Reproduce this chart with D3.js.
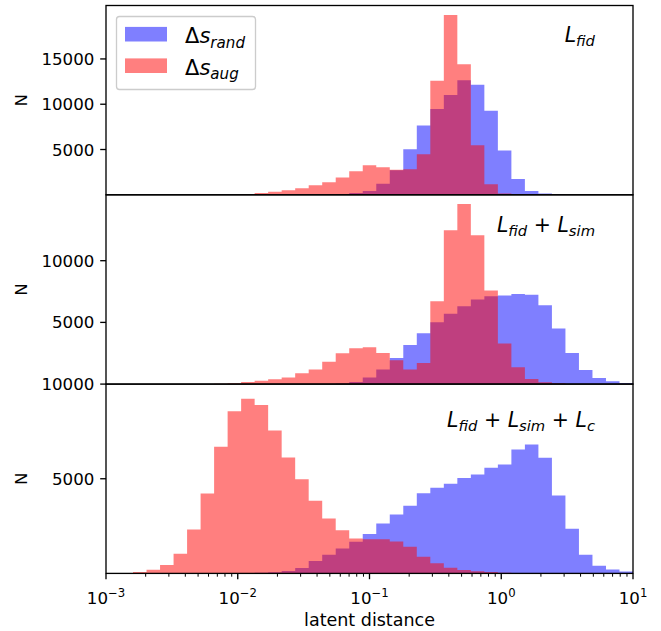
<!DOCTYPE html>
<html><head><meta charset="utf-8">
<script src="https://cdn.jsdelivr.net/npm/d3@7"></script>
<style>body{margin:0;background:#fff}svg{display:block}</style>
</head><body><svg id="c" width="661" height="631"></svg>
<script>
// ---- data ----
const logMin = -3, logMax = 1, binCount = 39;   // 40 log-spaced edges from 1e-3 to 1e1
const xTickExps = [-3, -2, -1, 0, 1];
const xLabel = "latent distance";
const yLabel = "N";

const fidRand = [0,0,0,0,0,0,0,0,0,0,0,0,0,0,0,0,0,50,200,420,1230,2720,5030,7650,9460,11010,12660,12150,9270,4885,1750,420,130,50,0,0,0,0,0];
const fidAug  = [0,0,0,0,0,0,0,0,10,30,60,200,350,500,720,1050,1380,1900,2600,3260,3040,2760,2820,4480,12590,19855,14400,5475,1160,130,50,0,0,0,0,0,0,0,0];

const simRand = [0,0,0,0,0,0,0,0,0,0,0,0,0,0,0,0,0,50,175,530,1175,2120,3175,4120,5010,5710,6305,6850,7120,7170,7300,7250,6390,4500,2525,1150,500,230,95];
const simAug  = [0,0,0,0,0,0,0,0,20,70,175,280,390,530,880,1175,1820,2500,2900,2985,2525,1930,1175,1715,6710,12465,14600,12060,7575,3280,1365,420,150,60,0,0,0,0,0];

const cRand = [0,0,0,0,0,0,0,0,0,0,20,40,55,125,285,655,990,1320,1675,2080,2640,3115,3570,4240,4525,4735,5035,5230,5580,5755,6545,6810,6105,4120,2360,990,410,200,100];
const cAug  = [0,10,75,195,445,1040,2325,4225,6690,8570,9225,8890,7550,6125,4980,3840,2905,2275,1850,1800,1800,1690,1410,880,530,300,180,110,75,40,20,0,0,0,0,0,0,0,0];

const panelYMax = [20900, 15340, 10000];
const panelYTicks = [[5000,10000,15000],[5000,10000],[5000,10000]];
const panelLabels = [
  [{t:"L",i:1},{t:"fid",i:1,s:1}],
  [{t:"L",i:1},{t:"fid",i:1,s:1},{t:" + "},{t:"L",i:1},{t:"sim",i:1,s:1}],
  [{t:"L",i:1},{t:"fid",i:1,s:1},{t:" + "},{t:"L",i:1},{t:"sim",i:1,s:1},{t:" + "},{t:"L",i:1},{t:"c",i:1,s:1}]
];
const legendItems = [
  {color:"rgba(0,0,255,0.5)", parts:[{t:"Δ"},{t:"s",i:1},{t:"rand",i:1,s:1}]},
  {color:"rgba(255,0,0,0.5)", parts:[{t:"Δ"},{t:"s",i:1},{t:"aug",i:1,s:1}]}
];
const panels = [
  {rand: fidRand, aug: fidAug},
  {rand: simRand, aug: simAug},
  {rand: cRand, aug: cAug}
];

// ---- layout ----
const FONT = "DejaVu Sans, Verdana, sans-serif";
const left = 106, right = 633, top0 = 5.5, ph = 189.3;
const svg = d3.select("#c");
const x = d3.scaleLog().domain([10**logMin, 10**logMax]).range([left, right]);
const edges = d3.range(binCount + 1).map(k => 10 ** (logMin + (logMax - logMin) * k / binCount));

function mathText(sel, parts, size) {
  parts.forEach(p => {
    const ts = sel.append("tspan").text(p.t)
      .attr("font-style", p.i ? "italic" : "normal")
      .attr("font-size", p.s ? size * 0.72 : size);
    if (p.s) ts.attr("dy", size * 0.22);
    else if (p.prevSub) ts.attr("dy", -size * 0.22);
  });
}
function fixParts(parts) {
  const out = [];
  let prevSub = false;
  parts.forEach(p => { out.push(Object.assign({}, p, {prevSub: !p.s && prevSub})); prevSub = !!p.s; });
  return out;
}

panels.forEach((p, i) => {
  const y0 = top0 + i * ph, y1 = y0 + ph;
  const y = d3.scaleLinear().domain([0, panelYMax[i]]).range([y1, y0]);
  const g = svg.append("g");
  const clipId = "clip" + i;
  svg.append("clipPath").attr("id", clipId).append("rect")
    .attr("x", left).attr("y", y0).attr("width", right - left).attr("height", ph);

  const area = d3.area()
    .x(d => x(d[0])).y0(y(0)).y1(d => y(d[1]))
    .curve(d3.curveStepAfter);
  [[p.rand, "rgba(0,0,255,0.5)"], [p.aug, "rgba(255,0,0,0.5)"]].forEach(([vals, col]) => {
    const pts = vals.map((v, k) => [edges[k], v]);
    pts.push([edges[binCount], vals[binCount - 1]]);
    g.append("path").attr("d", area(pts)).attr("fill", col).attr("clip-path", `url(#${clipId})`);
  });

  // y ticks
  panelYTicks[i].forEach(t => {
    g.append("line").attr("x1", left).attr("x2", left - 5.8).attr("y1", y(t)).attr("y2", y(t))
      .attr("stroke", "#000").attr("stroke-width", 1.33);
    g.append("text").attr("x", left - 11.6).attr("y", y(t)).attr("dy", "0.36em")
      .attr("text-anchor", "end").attr("font-family", FONT).attr("font-size", 16.67).text(d3.format("d")(t));
  });
  // y label
  g.append("text").attr("transform", `translate(27,${(y0 + y1) / 2}) rotate(-90)`)
    .attr("text-anchor", "middle").attr("font-family", FONT).attr("font-size", 16.67).text(yLabel);

  // frame
  g.append("rect").attr("x", left).attr("y", y0).attr("width", right - left).attr("height", ph)
    .attr("fill", "none").attr("stroke", "#000").attr("stroke-width", 1.33);

  // panel label
  const lbY = [41.7, 231.7, 426.5][i];
  const lt = g.append("text").attr("x", 595).attr("y", lbY).attr("text-anchor", "end")
    .attr("font-family", FONT).attr("font-size", 20.5);
  mathText(lt, fixParts(panelLabels[i]), 20.5);
});

// x axis (bottom panel)
const yb = top0 + 3 * ph;
const xa = svg.append("g");
xTickExps.forEach(e => {
  const xv = x(10 ** e);
  xa.append("line").attr("x1", xv).attr("x2", xv).attr("y1", yb).attr("y2", yb + 5.8)
    .attr("stroke", "#000").attr("stroke-width", 1.33);
  const t = xa.append("text").attr("x", xv).attr("y", 604).attr("text-anchor", "middle")
    .attr("font-family", FONT).attr("font-size", 16.67);
  t.append("tspan").text("10");
  t.append("tspan").text(e < 0 ? "\u2212" + (-e) : String(e)).attr("font-size", 11.7).attr("dy", -7);
});
xTickExps.slice(0, -1).forEach(e => {
  d3.range(2, 10).forEach(m => {
    const xv = x(m * 10 ** e);
    xa.append("line").attr("x1", xv).attr("x2", xv).attr("y1", yb).attr("y2", yb + 3.3)
      .attr("stroke", "#000").attr("stroke-width", 1);
  });
});
xa.append("text").attr("x", (left + right) / 2).attr("y", 626).attr("text-anchor", "middle")
  .attr("font-family", FONT).attr("font-size", 17.5).text(xLabel);

// legend
const lg = svg.append("g");
lg.append("rect").attr("x", 116.5).attr("y", 16.5).attr("width", 139).attr("height", 73).attr("rx", 3)
  .attr("fill", "rgba(255,255,255,0.8)").attr("stroke", "#cccccc").attr("stroke-width", 1.33);
legendItems.forEach((it, j) => {
  const cy = 34.2 + j * 31.5;
  lg.append("rect").attr("x", 125).attr("y", cy - 7.3).attr("width", 42).attr("height", 14.6).attr("fill", it.color);
  const t = lg.append("text").attr("x", 185).attr("y", cy + 9).attr("font-family", FONT).attr("font-size", 21);
  mathText(t, fixParts(it.parts), 21);
});
</script></body></html>
